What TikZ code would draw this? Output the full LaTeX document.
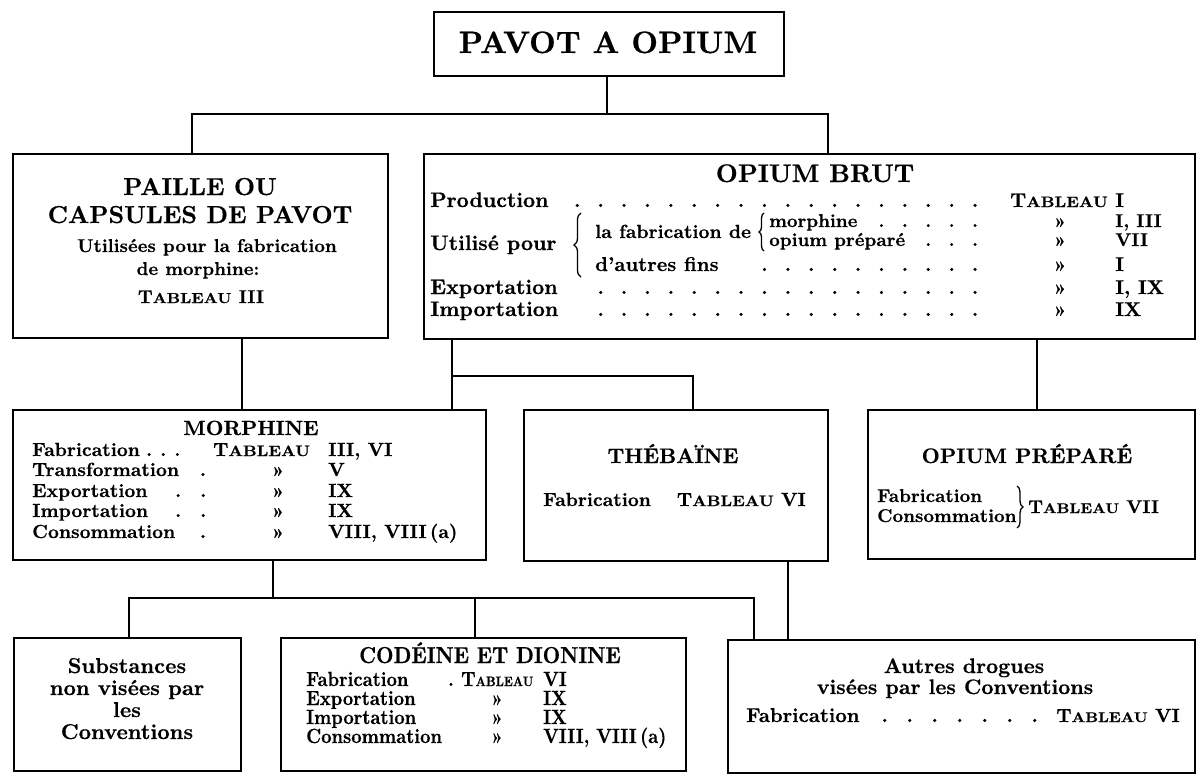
\documentclass[tikz,border=0pt]{standalone}
\usepackage{fontspec}
\usepackage{graphicx}
\usetikzlibrary{decorations.pathreplacing}
\setmainfont{lmroman10-regular.otf}[BoldFont=lmroman10-bold.otf, BoldFeatures={FakeBold=0.5}]
\newfontfamily\cbf{lmroman10-bold.otf}[FakeStretch=0.88, FakeBold=0.5]
\newcommand\fs[1]{\fontsize{#1}{#1}\selectfont}
\newcommand\TAB[1]{T{\fontsize{#1}{#1}\selectfont\scalebox{1.12}[1]{ABLEAU}}}
\newcommand\dotrow[2]{\hbox to #2{\hskip #1\leaders\hbox to 23.4pt{\hss.\hss}\hfill}}
\tikzset{
  box/.style={draw, line width=1.7pt, inner sep=0pt, anchor=north west},
  link/.style={line width=1.4pt},
  t/.style={inner sep=0pt, anchor=base west, font=\bfseries},
  tc/.style={inner sep=0pt, anchor=base, font=\bfseries},
  te/.style={inner sep=0pt, anchor=base east, font=\bfseries},
  brc/.style={decorate, decoration={brace, amplitude=#1}, line width=1.3pt},
}
\begin{document}
\begin{tikzpicture}[x=1pt, y=1pt]
\useasboundingbox (0,0) rectangle (1200,-779);
% boxes
\node[box, minimum width=350pt, minimum height=64pt] (top) at (433,-11) {};
\node[box, minimum width=375pt, minimum height=184pt] (paille) at (12,-153) {};
\node[box, minimum width=771pt, minimum height=185pt] (brut) at (423,-153) {};
\node[box, minimum width=473pt, minimum height=150pt] (morph) at (12,-409) {};
\node[box, minimum width=304pt, minimum height=151pt] (theb) at (523,-409) {};
\node[box, minimum width=327pt, minimum height=149pt] (prep) at (867,-409) {};
\node[box, minimum width=227pt, minimum height=133pt] (subst) at (13,-637) {};
\node[box, minimum width=405pt, minimum height=133pt] (code) at (280,-637) {};
\node[box, minimum width=467pt, minimum height=133pt] (autres) at (727,-639) {};
% junctions
\coordinate (j0) at (607,-114);
\coordinate (jL) at (192,-114);
\coordinate (jR) at (828,-114);
\coordinate (a1) at (242,-370);
\coordinate (b1) at (452,-376);
\coordinate (b2) at (693,-376);
\coordinate (b3) at (1037,-376);
\coordinate (m1) at (273,-598);
\coordinate (mL) at (129,-598);
\coordinate (mC) at (475,-598);
\coordinate (mR) at (754,-598);
\coordinate (t1) at (788,-600);
% connectors
\draw[link] (top.south -| j0) -- (j0);
\draw[link] (paille.north -| jL) |- (jR) -- (brut.north -| jR);
\draw[link] (paille.south -| a1) -- (morph.north -| a1);
\draw[link] (brut.south -| b1) -- (morph.north -| b1);
\draw[link] (b1) -- (b2) -- (theb.north -| b2);
\draw[link] (brut.south -| b3) -- (prep.north -| b3);
\draw[link] (morph.south -| m1) -- (m1);
\draw[link] (subst.north -| mL) |- (mR) -- (autres.north -| mR);
\draw[link] (mC) -- (code.north -| mC);
\draw[link] (theb.south -| t1) -- (autres.north -| t1);
% top
\node[tc] (ttl) at (608,-53) {\fs{31}PAVOT A OPIUM};
% paille
\node[tc] (p1) at (200,-195) {\fs{24.5}PAILLE OU};
\node[tc] (p2) at (200,-223) {\fs{24.5}CAPSULES DE PAVOT};
\node[tc] (p3) at (207,-252) {\fs{18.5}Utilisées pour la fabrication};
\node[tc] (p4) at (198,-275) {\fs{18.5}de morphine:};
\node[tc] (p5) at (201,-303) {\fs{18.5}\TAB{14.5} III};
% opium brut
\node[tc] (ob) at (815,-182) {\fs{25.5}OPIUM BRUT};
\node[t] (ob1) at (430,-207) {\fs{21}Production};
\node[t] (ob1d) at (425,-207) {\fs{20}\dotrow{138pt}{578pt}};
\node[te] (ob1t) at (1108,-207) {\fs{20}\TAB{15}};
\node[t] (ob1n) at (1115,-207) {\fs{20}I};
\node[t] (ob2) at (430,-250) {\fs{21}Utilisé pour};
\draw[brc=7pt] (581,-277) -- (581,-213);
\node[t] (ob3) at (595,-238) {\fs{19}la fabrication de};
\draw[brc=5pt] (764,-251) -- (764,-213);
\node[t] (ob4) at (769,-227) {\fs{18.5}morphine};
\node[t] (ob4d) at (425,-227) {\fs{18.5}\dotrow{432pt}{578pt}};
\node[tc] (ob4q) at (1060,-227) {\fs{18.5}»};
\node[t] (ob4n) at (1115,-227) {\fs{18.5}I, III};
\node[t] (ob5) at (769,-246) {\fs{18.5}opium préparé};
\node[t] (ob5d) at (425,-246) {\fs{18.5}\dotrow{490pt}{578pt}};
\node[tc] (ob5q) at (1060,-246) {\fs{18.5}»};
\node[t] (ob5n) at (1115,-246) {\fs{18.5}VII};
\node[t] (ob6) at (595,-271) {\fs{20}d'autres fins};
\node[t] (ob6d) at (425,-271) {\fs{20}\dotrow{305pt}{578pt}};
\node[tc] (ob6q) at (1060,-271) {\fs{20}»};
\node[t] (ob6n) at (1115,-271) {\fs{20}I};
\node[t] (ob7) at (430,-294) {\fs{21}Exportation};
\node[t] (ob7d) at (425,-294) {\fs{20}\dotrow{145pt}{578pt}};
\node[tc] (ob7q) at (1060,-294) {\fs{20}»};
\node[t] (ob7n) at (1115,-294) {\fs{20}I, IX};
\node[t] (ob8) at (430,-316) {\fs{21}Importation};
\node[t] (ob8d) at (425,-316) {\fs{20}\dotrow{145pt}{578pt}};
\node[tc] (ob8q) at (1060,-316) {\fs{20}»};
\node[t] (ob8n) at (1115,-316) {\fs{20}IX};
% morphine
\node[tc] (mo) at (251,-435) {\fs{20.5}MORPHINE};
\node[t] (mo1) at (32,-456) {\fs{19}Fabrication};
\node[t] (mo1d) at (146,-456) {\fs{19}.\hspace{8pt}.\hspace{8pt}.};
\node[t] (mo1t) at (213,-456) {\fs{19}\TAB{15}};
\node[t] (mo1n) at (328,-456) {\fs{19}III, VI};
\node[t] (mo2) at (32,-476) {\fs{19}Transformation};
\node[tc] (mo2d) at (203,-476) {\fs{19}.};
\node[tc] (mo2q) at (278,-476) {\fs{19}»};
\node[t] (mo2n) at (328,-476) {\fs{19}V};
\node[t] (mo3) at (32,-497) {\fs{19}Exportation};
\node[t] (mo3d) at (175,-497) {\fs{19}.\hspace{19pt}.};
\node[tc] (mo3q) at (278,-497) {\fs{19}»};
\node[t] (mo3n) at (328,-497) {\fs{19}IX};
\node[t] (mo4) at (32,-517) {\fs{19}Importation};
\node[t] (mo4d) at (175,-517) {\fs{19}.\hspace{19pt}.};
\node[tc] (mo4q) at (278,-517) {\fs{19}»};
\node[t] (mo4n) at (328,-517) {\fs{19}IX};
\node[t] (mo5) at (32,-538) {\fs{19}Consommation};
\node[tc] (mo5d) at (203,-538) {\fs{19}.};
\node[tc] (mo5q) at (278,-538) {\fs{19}»};
\node[t] (mo5n) at (328,-538) {\fs{19}VIII, VIII\,(a)};
% thebaine
\node[tc] (th) at (673,-463) {\fs{21}THÉBAÏNE};
\node[t] (th1) at (543,-506) {\fs{19}Fabrication};
\node[te] (th1t) at (806,-506) {\fs{19}\TAB{15} VI};
% opium prepare
\node[tc] (op) at (1027,-463) {\fs{21}OPIUM PRÉPARÉ};
\node[t] (op1) at (877,-502) {\fs{18.5}Fabrication};
\node[t] (op2) at (877,-522) {\fs{18.5}Consommation};
\draw[brc=6pt] (1017,-486) -- (1017,-528);
\node[t] (op3) at (1028,-513) {\fs{18.5}\TAB{14} VII};
% substances
\node[tc] (s1) at (127,-673) {\fs{21.5}Substances};
\node[tc] (s2) at (127,-695) {\fs{21.5}non visées par};
\node[tc] (s3) at (127,-717) {\fs{21.5}les};
\node[tc] (s4) at (127,-739) {\fs{21.5}Conventions};
% codeine
\node[tc] (co) at (490,-663) {\cbf\fs{23}CODÉINE ET DIONINE};
\node[t] (co1) at (306,-686) {\cbf\fs{20.5}Fabrication};
\node[tc] (co1d) at (451,-686) {\cbf\fs{20.5}.};
\node[t] (co1t) at (461,-686) {\cbf\fs{20.5}T{\fs{13.5}ABLEAU}};
\node[t] (co1n) at (543,-686) {\cbf\fs{20.5}VI};
\node[t] (co2) at (306,-705) {\cbf\fs{20.5}Exportation};
\node[tc] (co2q) at (497,-705) {\cbf\fs{20.5}»};
\node[t] (co2n) at (543,-705) {\cbf\fs{20.5}IX};
\node[t] (co3) at (306,-724) {\cbf\fs{20.5}Importation};
\node[tc] (co3q) at (497,-724) {\cbf\fs{20.5}»};
\node[t] (co3n) at (543,-724) {\cbf\fs{20.5}IX};
\node[t] (co4) at (306,-743) {\cbf\fs{20.5}Consommation};
\node[tc] (co4q) at (497,-743) {\cbf\fs{20.5}»};
\node[t] (co4n) at (543,-743) {\cbf\fs{20.5}VIII, VIII\,(a)};
% autres
\node[tc] (au1) at (964,-673) {\fs{21}Autres drogues};
\node[tc] (au2) at (955,-694) {\fs{21}visées par les Conventions};
\node[t] (au3) at (746,-722) {\fs{20}Fabrication};
\node[t] (au3d) at (872,-722) {\fs{20}\hbox to 175pt{\xleaders\hbox to 25pt{\hss.\hss}\hfill}};
\node[te] (au3t) at (1180,-722) {\fs{19}\TAB{14} VI};
\end{tikzpicture}
\end{document}
